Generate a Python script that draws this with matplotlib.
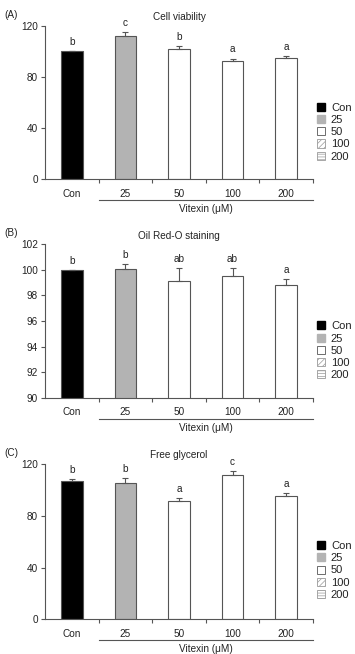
import numpy as np
import matplotlib.pyplot as plt
from matplotlib.patches import Patch
import matplotlib.transforms as mtransforms

plt.rcParams['font.family'] = ['Liberation Sans', 'DejaVu Sans']
plt.rcParams['hatch.linewidth'] = 0.5

# data
categories = ['Con', '25', '50', '100', '200']
legend_labels = ['Con', '25', '50', '100', '200']

viability = [100, 111.9, 101.5, 92.6, 95.0]
viability_err = [0, 3.4, 2.3, 1.6, 1.0]
viability_sig = ['b', 'c', 'b', 'a', 'a']

oro = [100.0, 100.05, 99.13, 99.5, 98.83]
oro_err = [0, 0.38, 1.0, 0.65, 0.47]
oro_sig = ['b', 'b', 'ab', 'ab', 'a']

glycerol = [107.1, 105.3, 91.6, 111.7, 95.0]
glycerol_err = [1.0, 3.5, 2.1, 2.6, 2.4]
glycerol_sig = ['b', 'b', 'a', 'c', 'a']

panels = [
    ('(A)', 'Cell viability', viability, viability_err, viability_sig, (0, 120), [0, 40, 80, 120]),
    ('(B)', 'Oil Red-O staining', oro, oro_err, oro_sig, (90, 102), [90, 92, 94, 96, 98, 100, 102]),
    ('(C)', 'Free glycerol', glycerol, glycerol_err, glycerol_sig, (0, 120), [0, 40, 80, 120]),
]

bar_colors = ['black', '#b3b3b3', 'white', 'white', 'white']
edge = '#555555'
txt = '#222222'
fs = 7.2

fig = plt.figure(figsize=(3.55, 6.54), dpi=100)
W, H = 355.0, 654.0
# (top px, bottom px) of each axes
boxes = [(25.7, 179.0), (244.3, 397.7), (464.0, 619.3)]

x = np.arange(len(categories))
for (tag, title, vals, errs, sig, ylim, yt), (top, bot) in zip(panels, boxes):
    hpx = bot - top
    ax = fig.add_axes([45 / W, 1 - bot / H, 268 / W, hpx / H])
    ax.bar(x, vals, width=0.4, color=bar_colors, edgecolor=edge, linewidth=0.8, zorder=2)
    ax.errorbar(x, vals, yerr=[np.zeros(len(errs)), errs], fmt='none',
                ecolor=edge, elinewidth=0.8, capsize=2, capthick=0.8, zorder=3)
    for xi, v, e, s in zip(x, vals, errs, sig):
        ax.annotate(s, (xi, v + e), xytext=(0, 3), textcoords='offset points',
                    ha='center', va='bottom', fontsize=fs, color=txt)
    ax.set_xlim(-0.5, 4.5)
    ax.set_ylim(*ylim)
    ax.set_yticks(yt)
    ax.set_xticks(x)
    ax.set_xticklabels(categories)
    ax.set_xticks(list(x + 0.5), minor=True)
    ax.tick_params(axis='x', which='major', length=0, pad=7, labelsize=fs, colors=txt)
    ax.tick_params(axis='x', which='minor', length=3, width=0.8, color=edge)
    ax.tick_params(axis='y', length=3, width=0.8, color=edge, pad=2, labelsize=fs, labelcolor=txt)
    for sp in ['top', 'right']:
        ax.spines[sp].set_visible(False)
    for sp in ['left', 'bottom']:
        ax.spines[sp].set_color(edge)
        ax.spines[sp].set_linewidth(0.8)
    ax.set_title(title, fontsize=fs, color=txt, pad=4)
    fig.text(4 / W, 1 - (top - 11) / H, tag, fontsize=fs, color=txt, va='center', ha='left')

    trans = mtransforms.blended_transform_factory(ax.transData, ax.transAxes)
    ax.plot([0.5, 4.5], [-21 / hpx, -21 / hpx], color=edge, lw=0.8, transform=trans, clip_on=False)
    ax.text(2.5, -30 / hpx, 'Vitexin (\u03bcM)', transform=trans, ha='center', va='center',
            fontsize=fs, color=txt)

    handles = [
        Patch(facecolor='black', edgecolor='black', label=legend_labels[0]),
        Patch(facecolor='#b3b3b3', edgecolor='#b3b3b3', label=legend_labels[1]),
        Patch(facecolor='white', edgecolor=edge, linewidth=0.6, label=legend_labels[2]),
        Patch(facecolor='white', edgecolor='#999999', hatch='//////', linewidth=0.6, label=legend_labels[3]),
        Patch(facecolor='white', edgecolor='#999999', hatch='------', linewidth=0.6, label=legend_labels[4]),
    ]
    ax.legend(handles=handles, loc='upper left', bbox_to_anchor=(1.015, (bot - top - 77) / hpx),
              frameon=False, fontsize=8, handlelength=0.75, handleheight=0.75,
              handletextpad=0.5, labelspacing=0.2, borderpad=0, borderaxespad=0,
              labelcolor=txt)

fig.savefig('out.png', dpi=100)
